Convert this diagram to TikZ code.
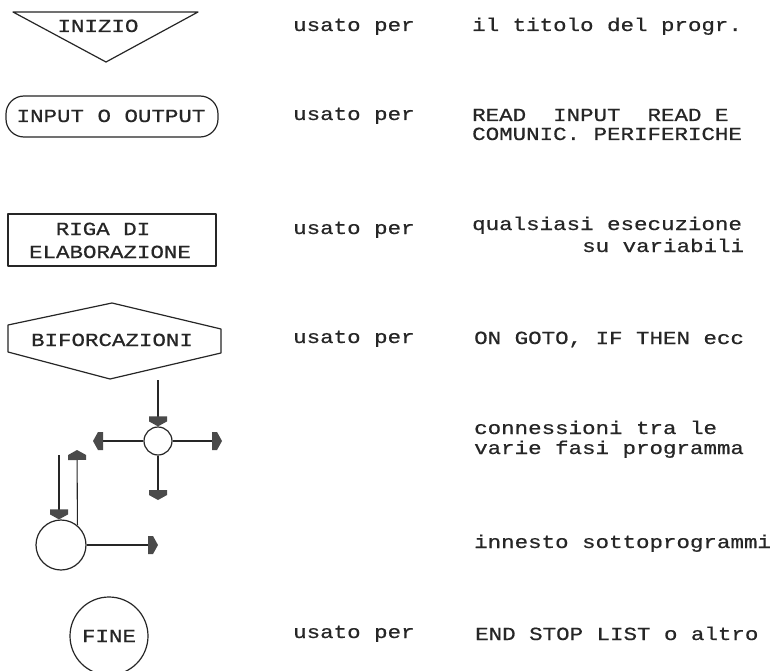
\documentclass[tikz,border=0pt]{standalone}
\usepackage{fontspec}
\newfontfamily\pix[FakeStretch=1.215,FakeBold=0.6]{Liberation Mono}
\usetikzlibrary{arrows.meta}
\definecolor{ink}{HTML}{262626}
\definecolor{headc}{HTML}{4A4A4A}
\pgfdeclarearrow{
  name = Pent,
  setup code = {
    \pgfarrowssettipend{0pt}
    \pgfarrowssetlineend{-7pt}
    \pgfarrowssetbackend{-10pt}
    \pgfarrowsupperhullpoint{0pt}{0pt}
    \pgfarrowsupperhullpoint{-10pt}{9pt}
  },
  drawing code = {
    \pgfpathmoveto{\pgfpoint{0pt}{0pt}}
    \pgfpathlineto{\pgfpoint{-5pt}{9pt}}
    \pgfpathlineto{\pgfpoint{-10pt}{9pt}}
    \pgfpathlineto{\pgfpoint{-10pt}{-9pt}}
    \pgfpathlineto{\pgfpoint{-5pt}{-9pt}}
    \pgfpathclose
    \pgfsetfillcolor{headc}
    \pgfusepathqfill
  }
}
\begin{document}
\begin{tikzpicture}[x=1pt,y=-1pt,
  txt/.style={font=\pix\fontsize{18.5}{20}\selectfont, text=ink, inner sep=0pt, anchor=base west},
  ctxt/.style={txt, anchor=base},
  shp/.style={draw=ink, line width=1.2pt, line join=round},
  conn/.style={draw=ink, line width=1.1pt, -{Pent}},
  circ/.style={circle, draw=ink, line width=1.2pt, inner sep=0pt}]
\useasboundingbox[fill=white] (0,0) rectangle (773,671);

% ---- shapes (left column)
\draw[shp] (13,12) -- (198,12) -- (106,62) -- cycle;
\node[ctxt] (inizio) at (98,32) {INIZIO};

\draw[shp, rounded corners=18pt] (6,96) rectangle (218,137);
\node[ctxt] (io) at (111,122) {INPUT O OUTPUT};

\draw[shp] (8,214) rectangle (216,266);
\node[ctxt] (riga) at (103,235) {RIGA DI};
\node[ctxt] (elab) at (110,258) {ELABORAZIONE};

\draw[shp] (8,325) -- (112,303) -- (221,329) -- (221,353) -- (110,379) -- (8,352) -- cycle;
\node[ctxt] (bif) at (112,346) {BIFORCAZIONI};

% ---- connection symbols
\node[circ, minimum size=28pt] (c1) at (158,441) {};
\coordinate (t1) at (158,380);
\coordinate (l1) at (93,441);
\coordinate (r1) at (222,441);
\coordinate (d1) at (158,500);
\draw[conn] (t1) -- (c1);
\draw[conn] (c1) -- (l1);
\draw[conn] (c1) -- (r1);
\draw[conn] (c1) -- (d1);

\node[circ, minimum size=50pt] (c2) at (61,545) {};
\coordinate (t2) at (59,455);
\coordinate (u2) at (77,450);
\coordinate (r2) at (158,545);
\draw[conn] (t2) -- (t2 |- c2.north);
\draw[conn] (c2.50) -- (u2);
\draw[conn] (c2) -- (r2);

\node[circ, minimum size=78pt, font=\pix\fontsize{18.5}{20}\selectfont, text=ink] (fine) at (109,636) {FINE};

% ---- "usato per" column
\node[txt] (u1) at (293,31) {usato per};
\node[txt] (u2t) at (293,120) {usato per};
\node[txt] (u3) at (293,234) {usato per};
\node[txt] (u4) at (293,343) {usato per};
\node[txt] (u7) at (293,638) {usato per};

% ---- descriptions
\node[txt] (d1t) at (472,31) {il titolo del progr.};
\node[txt] (d2a) at (472,121) {READ\ \ INPUT\ \ READ E};
\node[txt] (d2b) at (472,140) {COMUNIC. PERIFERICHE};
\node[txt] (d3a) at (472,230) {qualsiasi esecuzione};
\node[txt] (d3b) at (582,252) {su variabili};
\node[txt] (d4) at (474,344) {ON GOTO, IF THEN ecc};
\node[txt] (d5a) at (474,434) {connessioni tra le};
\node[txt] (d5b) at (474,454) {varie fasi programma};
\node[txt] (d6) at (474,548) {innesto sottoprogrammi};
\node[txt] (d7) at (475,640) {END STOP LIST o altro};
\end{tikzpicture}
\end{document}
